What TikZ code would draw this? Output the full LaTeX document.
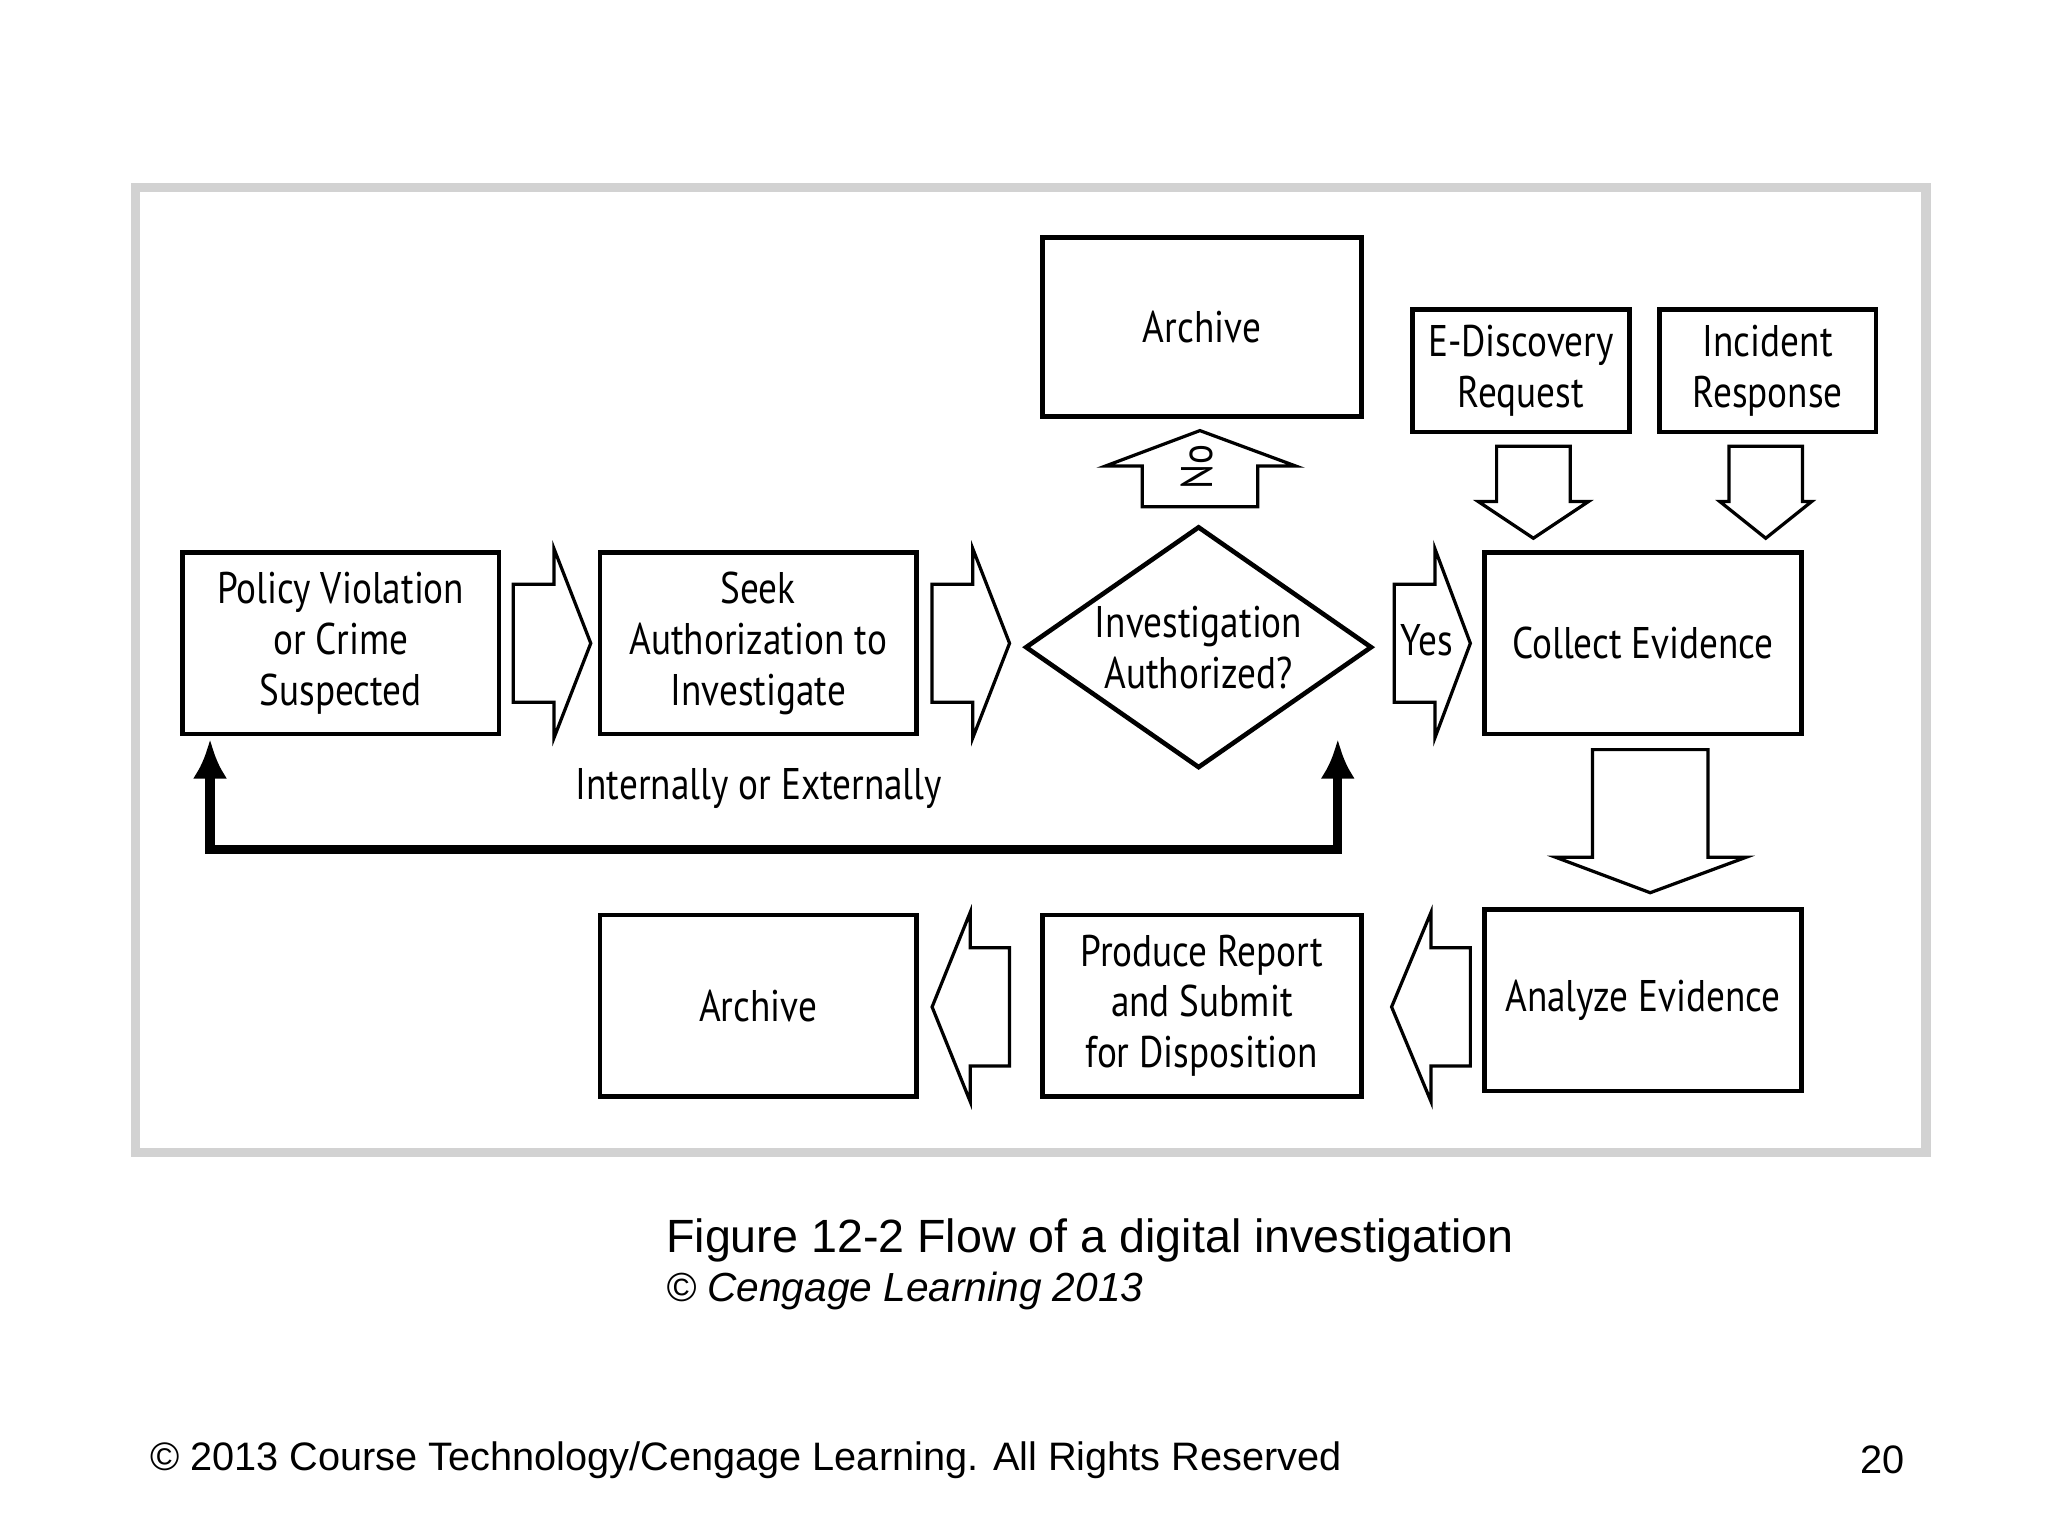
\documentclass[tikz,border=0pt]{standalone}
\usepackage{fontspec}
\setmainfont{Liberation Sans}
\newfontfamily\boxfont{PT Sans}[FakeStretch=0.84]
\usetikzlibrary{shapes.geometric, arrows.meta}
\begin{document}
\begin{tikzpicture}[x=0.01cm, y=-0.01cm,
    box/.style={draw, line width=1pt, align=center, inner sep=0pt,
        font=\boxfont\fontsize{9.6}{11}\selectfont},
    barrow/.style={draw, line width=0.7pt, fill=white},
    lbl/.style={font=\boxfont\fontsize{9.6}{11}\selectfont}
]
\useasboundingbox (0,0) rectangle (1560,1170);
\draw[gray!35, line width=2pt] (103,143) rectangle (1467,878);

% Boxes
\node[box, minimum width=2.41cm, minimum height=1.38cm] (policy) at (259.5,490) {Policy Violation\\or Crime\\Suspected};
\node[box, minimum width=2.41cm, minimum height=1.38cm] (seek) at (577.5,490) {Seek\\Authorization to\\Investigate};
\node[box, diamond, aspect=1.43, minimum width=2.64cm, minimum height=1.84cm] (auth) at (913,493) {Investigation\\Authorized?};
\node[box, minimum width=2.43cm, minimum height=1.36cm] (arch1) at (915.5,249) {Archive};
\node[box, minimum width=1.65cm, minimum height=0.93cm] (edisc) at (1158.5,282.5) {E-Discovery\\Request};
\node[box, minimum width=1.65cm, minimum height=0.93cm] (incid) at (1346.5,282.5) {Incident\\Response};
\node[box, minimum width=2.41cm, minimum height=1.38cm] (collect) at (1251.5,490) {Collect Evidence};
\node[box, minimum width=2.41cm, minimum height=1.38cm] (analyze) at (1251.5,762) {Analyze Evidence};
\node[box, minimum width=2.43cm, minimum height=1.38cm] (produce) at (915.5,766) {Produce Report\\and Submit\\for Disposition};
\node[box, minimum width=2.41cm, minimum height=1.38cm] (arch2) at (577.5,766) {Archive};

% Block arrows
\draw[barrow] (391,445)--(422,445)--(422,418)--(450,490)--(422,562)--(422,535)--(391,535)--cycle;
\draw[barrow] (710,445)--(741,445)--(741,418)--(769,490)--(741,562)--(741,535)--(710,535)--cycle;
\draw[barrow] (1062,445)--(1093,445)--(1093,418)--(1120,490)--(1093,562)--(1093,535)--(1062,535)--cycle;
\node[lbl] (yes) at (1087,488) {Yes};
\draw[barrow] (870,386)--(870,355)--(842,355)--(914,328)--(987,355)--(958,355)--(958,386)--cycle;
\node[lbl, rotate=90] (no) at (912,356) {No};
\draw[barrow] (1140,340)--(1196,340)--(1196,382)--(1210,382)--(1168,410)--(1126,382)--(1140,382)--cycle;
\draw[barrow] (1317,340)--(1373,340)--(1373,382)--(1380,382)--(1345,410)--(1310,382)--(1317,382)--cycle;
\draw[barrow] (1213,571)--(1301,571)--(1301,653)--(1330,653)--(1257,680)--(1185,653)--(1213,653)--cycle;
\draw[barrow] (1120,722)--(1090,722)--(1090,695)--(1060,767)--(1090,839)--(1090,812)--(1120,812)--cycle;
\draw[barrow] (769,722)--(739,722)--(739,695)--(710,767)--(739,839)--(739,812)--(769,812)--cycle;

% Feedback loop
\coordinate (fbl) at (160,563);
\coordinate (fbr) at (1019,563);
\draw[line width=2pt, {Latex[length=0.3cm,width=0.26cm]}-{Latex[length=0.3cm,width=0.26cm]}]
    (fbl) -- (160,647) -- (1019,647) -- (fbr);
\node[lbl] (fbtext) at (578,601) {Internally or Externally};

% Caption and footer
\node[anchor=west, font=\fontsize{10.1}{12}\selectfont] (cap) at (495,945) {Figure 12-2 Flow of a digital investigation};
\node[anchor=west, font=\itshape\fontsize{8.8}{11}\selectfont] (copy) at (495,983) {\textcopyright{} Cengage Learning 2013};
\node[anchor=west, font=\fontsize{8.6}{11}\selectfont] (foot) at (102,1112) {\textcopyright{} 2013 Course Technology/Cengage Learning. All Rights Reserved};
\node[anchor=east, font=\fontsize{8.6}{11}\selectfont] (page) at (1463,1112) {20};
\end{tikzpicture}
\end{document}
